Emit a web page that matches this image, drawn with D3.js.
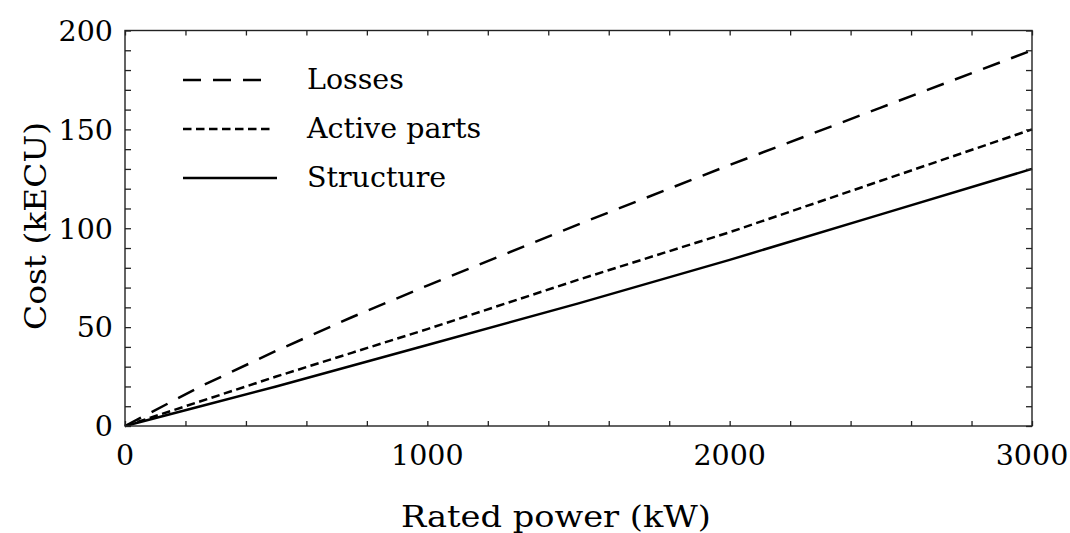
<!DOCTYPE html>
<html>
<head>
<meta charset="utf-8">
<script src="https://cdn.jsdelivr.net/npm/d3@7"></script>
<style>
  html, body { margin: 0; padding: 0; background: #fff; }
  svg { display: block; }
  text { font-family: "DejaVu Serif", serif; fill: #000; }
</style>
</head>
<body>
<svg id="chart" width="1070" height="533"></svg>
<script>
// ---- data ----
const power = [0, 250, 500, 750, 1000, 1500, 2000, 2500, 3000];
const losses = [0, 20, 38, 55, 71, 102, 132, 161, 190];
const activeParts = [0, 12.5, 25, 37, 49, 74, 98, 124, 150];
const structure = [0, 10, 20, 30.5, 41, 62, 84, 107, 130];
const seriesNames = ["Losses", "Active parts", "Structure"];
const xTickValues = [0, 1000, 2000, 3000];
const yTickValues = [0, 50, 100, 150, 200];
const xTitle = "Rated power (kW)";
const yTitle = "Cost (kECU)";

// ---- layout ----
const svg = d3.select("#chart");
const L = 125, R = 1032, T = 30.5, B = 426;
const x = d3.scaleLinear().domain([0, 3000]).range([L, R]);
const y = d3.scaleLinear().domain([0, 200]).range([B, T]);
const frameColor = "#222";
const fs = 28.5;

const styles = [
  { dash: "18,12" },
  { dash: "8.5,4.5" },
  { dash: null }
];
const data = [losses, activeParts, structure];

// curves
const line = d3.line().x(d => x(d[0])).y(d => y(d[1]));
data.forEach((vals, i) => {
  const pts = power.map((p, j) => [p, vals[j]]);
  const path = svg.append("path")
    .datum(pts)
    .attr("d", line)
    .attr("fill", "none")
    .attr("stroke", "#000")
    .attr("stroke-width", 2.5);
  if (styles[i].dash) path.attr("stroke-dasharray", styles[i].dash);
});

// frame + ticks via axes
const xMinor = d3.range(0, 3001, 200);
const yMinor = d3.range(0, 201, 10);
function styleAxis(g) {
  g.selectAll(".domain").remove();
  g.selectAll("line").attr("stroke", frameColor).attr("stroke-width", 1.3);
  g.selectAll("text").remove();
}
svg.append("g").attr("transform", `translate(0,${B})`)
  .call(d3.axisTop(x).tickValues(xMinor).tickSize(5)).call(styleAxis);
svg.append("g").attr("transform", `translate(0,${T})`)
  .call(d3.axisBottom(x).tickValues(xMinor).tickSize(5)).call(styleAxis);
svg.append("g").attr("transform", `translate(${L},0)`)
  .call(d3.axisRight(y).tickValues(yMinor).tickSize(6)).call(styleAxis);
svg.append("g").attr("transform", `translate(${R},0)`)
  .call(d3.axisLeft(y).tickValues(yMinor).tickSize(6)).call(styleAxis);

svg.append("rect")
  .attr("x", L).attr("y", T).attr("width", R - L).attr("height", B - T)
  .attr("fill", "none").attr("stroke", frameColor).attr("stroke-width", 1.4);

// tick labels
svg.append("g").selectAll("text").data(xTickValues).join("text")
  .attr("x", d => x(d)).attr("y", 465)
  .attr("text-anchor", "middle")
  .attr("font-size", fs)
  .text(d => d);
svg.append("g").selectAll("text").data(yTickValues).join("text")
  .attr("x", 113).attr("y", d => y(d))
  .attr("dy", "0.36em")
  .attr("text-anchor", "end")
  .attr("font-size", fs)
  .text(d => d);

// axis titles
svg.append("text")
  .attr("x", 401).attr("y", 527)
  .attr("font-size", 29)
  .attr("textLength", 310)
  .attr("lengthAdjust", "spacingAndGlyphs")
  .text(xTitle);
svg.append("text")
  .attr("transform", `translate(46,330) rotate(-90)`)
  .attr("font-size", 29)
  .attr("textLength", 208)
  .attr("lengthAdjust", "spacingAndGlyphs")
  .text(yTitle);

// legend
const legY = [80, 129, 178];
const legX2 = [266, 272, 277];
seriesNames.forEach((name, i) => {
  const l = svg.append("line")
    .attr("x1", 183).attr("x2", legX2[i])
    .attr("y1", legY[i]).attr("y2", legY[i])
    .attr("stroke", "#000").attr("stroke-width", 2.5);
  if (styles[i].dash) l.attr("stroke-dasharray", styles[i].dash);
  svg.append("text")
    .attr("x", 307).attr("y", legY[i])
    .attr("dy", "0.33em")
    .attr("font-size", fs)
    .text(name);
});
</script>
</body>
</html>
